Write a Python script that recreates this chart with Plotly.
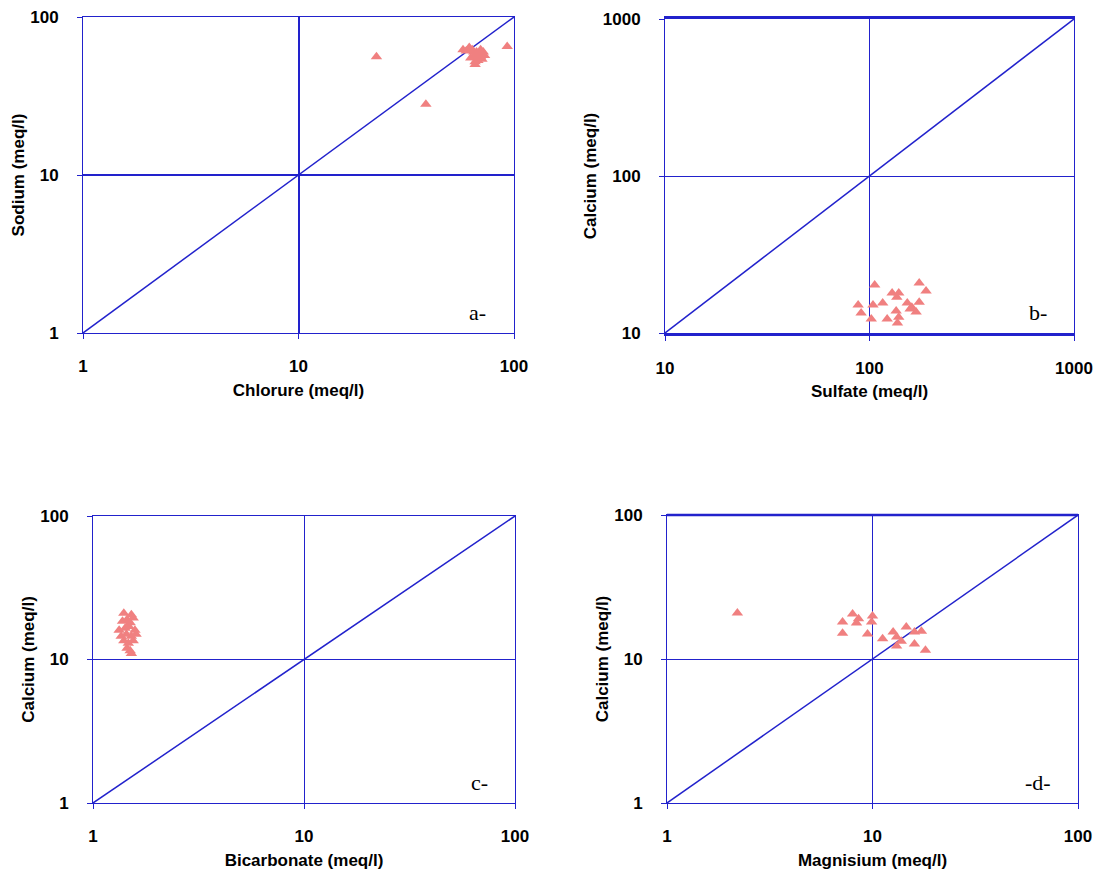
import math
import plotly.graph_objects as go

# ---------------- data ----------------
# Panel a: Chlorure (x) vs Sodium (y)
chlorure = [23, 39, 93, 58, 62, 65, 67, 70, 72, 63, 66, 68, 71, 64, 69, 60, 73, 66, 68, 70, 65, 67]
sodium   = [56, 28, 65, 62, 64, 60, 58, 56, 60, 55, 52, 57, 54, 62, 59, 61, 57, 50, 53, 62, 56, 60]

# Panel b: Sulfate (x) vs Calcium (y)
sulfate   = [106, 175, 189, 129, 139, 136, 88, 104, 116, 153, 175, 91, 135, 161, 169, 102, 122, 139, 137, 158]
calcium_b = [20.2, 20.8, 18.5, 18.0, 18.0, 16.9, 15.1, 15.1, 15.5, 15.5, 15.7, 13.4, 13.8, 14.6, 13.6, 12.3, 12.3, 12.6, 11.6, 14.2]

# Panel c: Bicarbonate (x) vs Calcium (y)
bicarbonate = [1.40, 1.52, 1.38, 1.45, 1.50, 1.55, 1.33, 1.42, 1.48, 1.58, 1.36, 1.44, 1.52, 1.60, 1.40, 1.47, 1.55, 1.45, 1.50, 1.52]
calcium_c   = [21.0, 20.5, 18.5, 19.0, 18.0, 19.5, 16.0, 16.5, 17.0, 16.0, 14.5, 15.0, 14.5, 15.0, 13.5, 13.0, 13.5, 12.0, 11.5, 11.0]

# Panel d: Magnisium (x) vs Calcium (y)
magnisium = [2.2, 7.15, 7.15, 8.0, 8.55, 8.36, 10.0, 9.9, 9.46, 11.2, 12.6, 13.1, 13.1, 14.6, 16.0, 17.3, 16.0, 18.1, 13.8]
calcium_d = [20.9, 18.1, 15.1, 20.5, 19.0, 17.8, 19.9, 18.1, 14.9, 13.8, 15.4, 14.2, 12.3, 16.7, 15.4, 15.6, 12.7, 11.5, 13.3]

# 1:1 reference lines
diag_small = [1, 100]
diag_large = [10, 1000]

ticks_small = [1, 10, 100]
ticks_large = [10, 100, 1000]
tick_labels_small = ["1", "10", "100"]
tick_labels_large = ["10", "100", "1000"]

panel_labels = ["a-", "b-", "c-", "-d-"]

# ---------------- style ----------------
BLUE = "#2222cc"
MARK = "#F08080"
OFF = 8                      # page body margin
W, H = 1102 - OFF, 876 - OFF

def dom_x(l, r):
    return [(l - OFF) / W, (r - OFF) / W]

def dom_y(t, b):
    return [1 - (b - OFF) / H, 1 - (t - OFF) / H]

fig = go.Figure()

panels = [
    dict(x=chlorure, y=sodium, diag=diag_small, tv=ticks_small, tt=tick_labels_small,
         xt="Chlorure (meq/l)", yt="Sodium (meq/l)", dx=dom_x(83, 514), dy=dom_y(17, 333),
         gridw=2.2, xlinew=1, label=panel_labels[0]),
    dict(x=sulfate, y=calcium_b, diag=diag_large, tv=ticks_large, tt=tick_labels_large,
         xt="Sulfate (meq/l)", yt="Calcium (meq/l)", dx=dom_x(665, 1074), dy=dom_y(19, 333),
         gridw=1, xlinew=2.5, label=panel_labels[1]),
    dict(x=bicarbonate, y=calcium_c, diag=diag_small, tv=ticks_small, tt=tick_labels_small,
         xt="Bicarbonate (meq/l)", yt="Calcium (meq/l)", dx=dom_x(93, 515), dy=dom_y(516, 803),
         gridw=1, xlinew=1, label=panel_labels[2]),
    dict(x=magnisium, y=calcium_d, diag=diag_small, tv=ticks_small, tt=tick_labels_small,
         xt="Magnisium (meq/l)", yt="Calcium (meq/l)", dx=dom_x(667, 1078), dy=dom_y(515, 803),
         gridw=1, xlinew=1, label=panel_labels[3]),
]

tickfont = dict(family="Liberation Sans, Arial", size=17, color="black", weight="bold")
titlefont = dict(family="Liberation Sans, Arial", size=17, color="black", weight="bold")

layout = dict(width=W, height=H, margin=dict(l=0, r=0, t=0, b=0, autoexpand=False),
              paper_bgcolor="white", plot_bgcolor="white", showlegend=False)
shapes = []
annotations = []

for i, p in enumerate(panels, start=1):
    xs = "x" if i == 1 else f"x{i}"
    ys = "y" if i == 1 else f"y{i}"
    xk = "xaxis" if i == 1 else f"xaxis{i}"
    yk = "yaxis" if i == 1 else f"yaxis{i}"
    # 1:1 line
    fig.add_trace(go.Scatter(x=p["diag"], y=p["diag"], mode="lines",
                             line=dict(color=BLUE, width=1.5), xaxis=xs, yaxis=ys,
                             hoverinfo="skip"))
    # samples
    fig.add_trace(go.Scatter(x=p["x"], y=p["y"], mode="markers",
                             marker=dict(symbol="triangle-up", size=10, color=MARK),
                             xaxis=xs, yaxis=ys))
    rng = [math.log10(p["tv"][0]), math.log10(p["tv"][-1])]
    common = dict(type="log", range=rng, tickvals=p["tv"], ticktext=p["tt"],
                  showgrid=True, gridcolor=BLUE, gridwidth=p["gridw"],
                  showline=True, mirror=True, linecolor=BLUE, automargin=False,
                  ticks="outside", ticklen=5, tickcolor=BLUE, tickwidth=1,
                  tickfont=tickfont, zeroline=False, fixedrange=True,
                  ticklabeloverflow="allow")
    layout[xk] = dict(common, domain=p["dx"], anchor=ys, linewidth=p["xlinew"],
                      title=dict(text=p["xt"], font=titlefont, standoff=8),
                      ticklabelstandoff=13)
    layout[yk] = dict(common, domain=p["dy"], anchor=xs, linewidth=1,
                      title=dict(text=p["yt"], font=titlefont, standoff=1),
                      ticklabelstandoff=15)
    annotations.append(dict(text=p["label"], xref=f"{xs} domain", yref=f"{ys} domain",
                            x=0.94, y=0.02, xanchor="right", yanchor="bottom",
                            showarrow=False,
                            font=dict(family="Liberation Serif, Times New Roman", size=22, color="black")))

# thick top border on panel d
shapes.append(dict(type="line", xref="x4 domain", yref="y4 domain", x0=0, x1=1, y0=1, y1=1,
                   line=dict(color=BLUE, width=2.5)))

layout["shapes"] = shapes
layout["annotations"] = annotations
fig.update_layout(**layout)
fig.write_html("out.html")
